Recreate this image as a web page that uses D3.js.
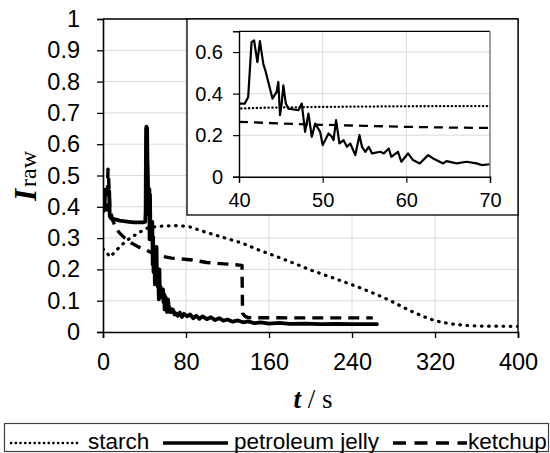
<!DOCTYPE html>
<html>
<head>
<meta charset="utf-8">
<script src="https://cdn.jsdelivr.net/npm/d3@7"></script>
<style>
  body { margin: 0; background: #fff; }
  svg { display: block; font-family: "Liberation Sans", Arial, sans-serif; }
</style>
</head>
<body>
<div id="chart"></div>
<script>
// time (s) / raw intensity
const starchT = [0, 3, 7, 12, 18, 24, 31, 37, 40, 43, 50, 60, 70, 76, 85, 93, 100, 110, 120, 135, 150, 165, 180, 200, 220, 245, 265, 277, 290, 300, 310, 320, 335, 350, 365, 400];
const starchV = [0.265, 0.255, 0.24, 0.258, 0.278, 0.295, 0.31, 0.322, 0.328, 0.332, 0.336, 0.339, 0.34, 0.339, 0.335, 0.325, 0.318, 0.308, 0.298, 0.283, 0.262, 0.244, 0.225, 0.198, 0.175, 0.145, 0.118, 0.1, 0.078, 0.062, 0.048, 0.036, 0.026, 0.021, 0.019, 0.018];

const jellyT = [0, 1.5, 2, 6, 6.5, 8, 12, 16, 20, 25, 30, 35, 39, 40, 40.7, 41.1, 41.5, 41.8, 42.2, 42.5, 42.9, 43.2, 43.5, 44, 44.5, 44.7, 44.9, 45.1, 45.3, 45.6, 45.9, 47.1, 47.5, 47.9, 48.3, 48.7, 49.1, 49.7, 50, 50.7, 51.1, 51.3, 51.6, 52, 52.5, 52.9, 53.3, 53.9, 54.4, 54.7, 55.1, 55.5, 55.9, 56.9, 57.3, 57.9, 58.2, 59, 59.4, 60.2, 60.8, 61.6, 62.6, 63.2, 64.4, 64.8, 66, 67.2, 68.4, 69, 70,
  72, 74, 76, 78, 81, 84, 87, 90, 93, 96, 100, 104, 108, 112, 116, 120, 125, 130, 135, 140, 146, 152, 160, 170, 180, 195, 210, 225, 240, 252, 264];
const jellyV = [0.385, 0.39, 0.455, 0.45, 0.37, 0.362, 0.36, 0.356, 0.354, 0.352, 0.35, 0.35, 0.35, 0.352, 0.352, 0.384, 0.648, 0.656, 0.552, 0.653, 0.544, 0.504, 0.456, 0.376, 0.408, 0.456, 0.296, 0.352, 0.44, 0.352, 0.328, 0.32, 0.352, 0.216, 0.304, 0.192, 0.256, 0.216, 0.152, 0.208, 0.192, 0.176, 0.272, 0.16, 0.176, 0.144, 0.16, 0.104, 0.2, 0.144, 0.12, 0.144, 0.112, 0.12, 0.112, 0.136, 0.096, 0.12, 0.072, 0.112, 0.08, 0.064, 0.104, 0.088, 0.064, 0.075, 0.064, 0.072, 0.064, 0.056, 0.06,
  0.052, 0.062, 0.048, 0.058, 0.05, 0.056, 0.044, 0.052, 0.042, 0.05, 0.041, 0.047, 0.038, 0.044, 0.036, 0.04, 0.033, 0.037, 0.031, 0.034, 0.028, 0.031, 0.027, 0.029, 0.026, 0.027, 0.025, 0.026, 0.025, 0.025, 0.025];

const ketchupT = [0, 4, 4.8, 5.3, 6.5, 9, 12, 15, 21, 27, 34, 40, 48, 55, 60, 66, 70, 86, 100, 120, 134, 134.5, 137, 140, 180, 220, 260];
const ketchupV = [0.395, 0.39, 0.52, 0.5, 0.4, 0.36, 0.335, 0.32, 0.3, 0.285, 0.272, 0.264, 0.252, 0.245, 0.24, 0.236, 0.235, 0.23, 0.222, 0.217, 0.213, 0.06, 0.05, 0.046, 0.045, 0.045, 0.045];

const xTicks = [0, 80, 160, 240, 320, 400];
const yTicks = [0, 0.1, 0.2, 0.3, 0.4, 0.5, 0.6, 0.7, 0.8, 0.9, 1];
const insetXTicks = [40, 50, 60, 70];
const insetYTicks = [0, 0.2, 0.4, 0.6];
const legendNames = ["starch", "petroleum jelly", "ketchup"];

const width = 550, height = 453;

const zip = (ts, vs) => ts.map((t, i) => ({ t: t, v: vs[i] }));
const series = [
  { name: "starch", pts: zip(starchT, starchV) },
  { name: "petroleum jelly", pts: zip(jellyT, jellyV) },
  { name: "ketchup", pts: zip(ketchupT, ketchupV) }
];

const mainStyle = {
  "starch": { w: 3.2, dash: "0.6 6.6", cap: "round" },
  "petroleum jelly": { w: 3.8, dash: null, cap: "round" },
  "ketchup": { w: 3.4, dash: "11 7", cap: "butt" }
};
const insetStyle = {
  "starch": { w: 2.3, dash: "0.3 3.6", cap: "round" },
  "petroleum jelly": { w: 2.2, dash: null, cap: "round" },
  "ketchup": { w: 2.3, dash: "9 6", cap: "butt" }
};

const svg = d3.select("#chart").append("svg")
  .attr("width", width)
  .attr("height", height);

// ---- main plot ----
const x = d3.scaleLinear().domain([0, 400]).range([103, 518]);
const y = d3.scaleLinear().domain([0, 1]).range([332, 19]);

svg.append("g")
  .selectAll("line.hg")
  .data(yTicks.slice(1))
  .join("line")
  .attr("x1", x(0)).attr("x2", x(400))
  .attr("y1", d => y(d)).attr("y2", d => y(d))
  .attr("stroke", "#d9d9d9").attr("stroke-width", 1);

svg.append("g")
  .selectAll("line")
  .data(xTicks.slice(1))
  .join("line")
  .attr("x1", d => x(d)).attr("x2", d => x(d))
  .attr("y1", y(0)).attr("y2", y(1))
  .attr("stroke", "#d9d9d9").attr("stroke-width", 1);

svg.append("clipPath").attr("id", "mainClip")
  .append("rect")
  .attr("x", x(0)).attr("y", y(1) - 5)
  .attr("width", x(400) - x(0)).attr("height", y(0) - y(1) + 5);

const line = d3.line().x(d => x(d.t)).y(d => y(d.v));

svg.append("g")
  .attr("clip-path", "url(#mainClip)")
  .selectAll("path")
  .data(series)
  .join("path")
  .attr("d", d => line(d.pts))
  .attr("fill", "none")
  .attr("stroke", "#000")
  .attr("stroke-width", d => mainStyle[d.name].w)
  .attr("stroke-dasharray", d => mainStyle[d.name].dash)
  .attr("stroke-linecap", d => mainStyle[d.name].cap)
  .attr("stroke-linejoin", "round");

// top / right border
svg.append("path")
  .attr("d", `M${x(0)},${y(1)}H${x(400)}V${y(0)}`)
  .attr("fill", "none").attr("stroke", "#000").attr("stroke-width", 1.3);

const fmt = d => String(+d.toFixed(1));

const yAxis = svg.append("g")
  .attr("transform", `translate(${x(0)},0)`)
  .call(d3.axisLeft(y).tickValues(yTicks).tickSize(6).tickPadding(17).tickFormat(fmt));

const xAxis = svg.append("g")
  .attr("transform", `translate(0,${y(0)})`)
  .call(d3.axisBottom(x).tickValues(xTicks).tickSize(6).tickPadding(15).tickFormat(fmt));

[yAxis, xAxis].forEach(g => {
  g.selectAll("text").attr("font-size", 23.5).attr("fill", "#000")
    .attr("font-family", "Liberation Sans, Arial, sans-serif");
  g.selectAll("line").attr("stroke", "#000").attr("stroke-width", 1.3);
  g.select(".domain").attr("stroke", "#000").attr("stroke-width", 1.6);
});

// axis titles
svg.append("text")
  .attr("x", 313).attr("y", 408)
  .attr("text-anchor", "middle")
  .attr("font-family", "Liberation Serif, serif")
  .attr("font-size", 27)
  .call(t => {
    t.append("tspan").attr("font-weight", "bold").attr("font-style", "italic").text("t");
    t.append("tspan").text(" / s");
  });

svg.append("text")
  .attr("transform", "translate(36,176) rotate(-90)")
  .attr("text-anchor", "middle")
  .attr("font-family", "Liberation Serif, serif")
  .call(t => {
    t.append("tspan").attr("font-weight", "bold").attr("font-style", "italic").attr("font-size", 31).text("I");
    t.append("tspan").attr("font-size", 24).attr("dx", 2).text("raw");
  });

// ---- inset ----
svg.append("rect")
  .attr("x", 187).attr("y", 19)
  .attr("width", 518 - 187).attr("height", 215 - 19)
  .attr("fill", "#fff").attr("stroke", "#000").attr("stroke-width", 1.3);

const xi = d3.scaleLinear().domain([40, 70]).range([239, 490]);
const yi = d3.scaleLinear().domain([0, 0.7]).range([176.7, 31.3]);

const ig = svg.append("g");

ig.selectAll("line.hg")
  .data(insetYTicks.slice(1))
  .join("line")
  .attr("x1", xi(40)).attr("x2", xi(70))
  .attr("y1", d => yi(d)).attr("y2", d => yi(d))
  .attr("stroke", "#d9d9d9").attr("stroke-width", 1);

ig.selectAll("line.vg")
  .data(insetXTicks.slice(1, -1))
  .join("line")
  .attr("x1", d => xi(d)).attr("x2", d => xi(d))
  .attr("y1", yi(0)).attr("y2", yi(0.7))
  .attr("stroke", "#d9d9d9").attr("stroke-width", 1);

svg.append("clipPath").attr("id", "insetClip")
  .append("rect")
  .attr("x", xi(40)).attr("y", yi(0.7))
  .attr("width", xi(70) - xi(40)).attr("height", yi(0) - yi(0.7));

const iline = d3.line().x(d => xi(d.t)).y(d => yi(d.v));

ig.append("g")
  .attr("clip-path", "url(#insetClip)")
  .selectAll("path")
  .data(series)
  .join("path")
  .attr("d", d => iline(d.pts.filter(p => p.t >= 35 && p.t <= 80)))
  .attr("fill", "none")
  .attr("stroke", "#000")
  .attr("stroke-width", d => insetStyle[d.name].w)
  .attr("stroke-dasharray", d => insetStyle[d.name].dash)
  .attr("stroke-linecap", d => insetStyle[d.name].cap)
  .attr("stroke-linejoin", "round");

ig.append("line")
  .attr("x1", xi(40)).attr("x2", xi(70))
  .attr("y1", yi(0.7)).attr("y2", yi(0.7))
  .attr("stroke", "#000").attr("stroke-width", 1.2);
ig.append("line")
  .attr("x1", xi(70)).attr("x2", xi(70))
  .attr("y1", yi(0.7)).attr("y2", yi(0))
  .attr("stroke", "#888").attr("stroke-width", 1.6);

const iyAxis = ig.append("g")
  .attr("transform", `translate(${xi(40)},0)`)
  .call(d3.axisLeft(yi).tickValues(insetYTicks).tickSize(6).tickPadding(10).tickFormat(fmt));
const ixAxis = ig.append("g")
  .attr("transform", `translate(0,${yi(0)})`)
  .call(d3.axisBottom(xi).tickValues(insetXTicks).tickSize(6).tickPadding(10).tickFormat(fmt));

[iyAxis, ixAxis].forEach(g => {
  g.selectAll("text").attr("font-size", 20).attr("fill", "#000")
    .attr("font-family", "Liberation Sans, Arial, sans-serif");
  g.selectAll("line").attr("stroke", "#000").attr("stroke-width", 1.2);
  g.select(".domain").attr("stroke", "#000").attr("stroke-width", 1.4);
});

// ---- legend ----
const lg = svg.append("g");
lg.append("rect")
  .attr("x", 4.5).attr("y", 423.5)
  .attr("width", 544).attr("height", 28)
  .attr("fill", "#fff").attr("stroke", "#404040").attr("stroke-width", 1.2);

const legendItems = [
  { name: legendNames[0], x1: 11, x2: 79, tx: 88, style: { w: 2.4, dash: "0.3 4.4", cap: "round" } },
  { name: legendNames[1], x1: 163, x2: 228, tx: 234, style: { w: 3.4, dash: null, cap: "butt" } },
  { name: legendNames[2], x1: 393, x2: 467, tx: 468, style: { w: 3.4, dash: "13 8.5", cap: "butt" } }
];

lg.selectAll("line")
  .data(legendItems)
  .join("line")
  .attr("x1", d => d.x1).attr("x2", d => d.x2)
  .attr("y1", 443).attr("y2", 443)
  .attr("stroke", "#000")
  .attr("stroke-width", d => d.style.w)
  .attr("stroke-dasharray", d => d.style.dash)
  .attr("stroke-linecap", d => d.style.cap);

lg.selectAll("text")
  .data(legendItems)
  .join("text")
  .attr("x", d => d.tx).attr("y", 449)
  .attr("font-size", 22.5)
  .attr("fill", "#000")
  .text(d => d.name);
</script>
</body>
</html>
